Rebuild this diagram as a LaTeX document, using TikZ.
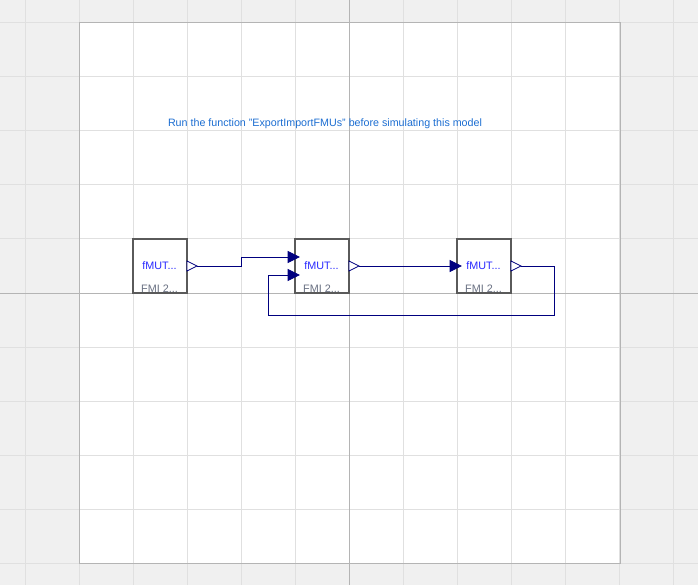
\documentclass[tikz,border=0pt]{standalone}
\usepackage{fontspec}
\setmainfont{Liberation Sans}
\definecolor{bggrey}{RGB}{240,240,240}
\definecolor{gridline}{RGB}{224,224,224}
\definecolor{axisline}{RGB}{180,180,180}
\definecolor{blockedge}{RGB}{90,90,90}
\definecolor{wire}{RGB}{0,0,127}
\definecolor{notecol}{RGB}{28,110,210}
\definecolor{namecol}{RGB}{40,40,255}
\definecolor{typecol}{RGB}{105,112,130}
\begin{document}
\begin{tikzpicture}[x=1pt,y=-1pt,
  fmu/.style={fill=white,minimum width=54pt,minimum height=54pt,inner sep=0pt,outer sep=0pt,anchor=center},
  fmuname/.style={text=namecol,font=\fontsize{10.8}{12}\selectfont,inner sep=0pt},
  fmutype/.style={text=typecol,font=\fontsize{10.8}{12}\selectfont,inner sep=0pt},
  wireline/.style={draw=wire,line width=1pt},
  outport/.style={draw=wire,fill=white,line width=0.8pt},
  inport/.style={draw=wire,fill=wire,line width=0.8pt},
  note/.style={text=notecol,font=\fontsize{10.7}{12}\selectfont,inner sep=0pt}
]
\useasboundingbox (0,0) rectangle (698,585);
\fill[bggrey] (0,0) rectangle (698,585);
\fill[white] (79.5,23) rectangle (620,563);
% grid
\foreach \gx in {25.5,79.5,133.5,187.5,241.5,295.5,403.5,457.5,511.5,565.5,619.5,673.5}
  \draw[gridline,line width=1pt] (\gx,0) -- (\gx,585);
\foreach \gy in {23,77,131,185,239,347,401,455,509,563}
  \draw[gridline,line width=1pt] (0,\gy) -- (698,\gy);
\draw[axisline,line width=1pt] (349.5,0) -- (349.5,585);
\draw[axisline,line width=1pt] (0,293) -- (698,293);
\draw[axisline,line width=1pt] (79.5,23) rectangle (620,563);

% note
\node[note] (msg) at (325,123.5) {Run the function "ExportImportFMUs" before simulating this model};

% blocks
\node[fmu] (b1) at (160,266) {};
\node[fmu] (b2) at (322,266) {};
\node[fmu] (b3) at (484,266) {};
\foreach \b/\cx in {1/160,2/322,3/484}{
  \node[fmuname] (n\b) at (\cx-0.5,266) {fMUT...};
  \node[fmutype] (t\b) at (\cx-0.5,289) {FMI 2...};
  \draw[blockedge,line width=2.2pt] (b\b.north west) rectangle (b\b.south east);
}

% ports
\coordinate (o1) at (197,266);
\coordinate (o2) at (359,266);
\coordinate (o3) at (521,266);
\coordinate (i21) at (288,257);
\coordinate (i22) at (288,275);
\coordinate (i3) at (450,266);
\foreach \c in {1,2,3}
  \draw[outport] (o\c) -- ++(-10,-5) -- ++(0,10) -- cycle;
\foreach \c in {i21,i22,i3}
  \draw[inport] (\c) ++(0,-5.5) -- ++(11,5.5) -- ++(-11,5.5) -- cycle;

% connectors
\coordinate (k1) at (241.5,266);
\coordinate (k2) at (241.5,257);
\draw[wireline] (o1) -- (k1) -- (k2) -- (i21);
\draw[wireline] (o2) -- (i3);
\coordinate (k3) at (554,266);
\coordinate (k4) at (554,315);
\coordinate (k5) at (268,315);
\coordinate (k6) at (268,275);
\draw[wireline] (o3) -- (k3) -- (k4) -- (k5) -- (k6) -- (i22);
\end{tikzpicture}
\end{document}
